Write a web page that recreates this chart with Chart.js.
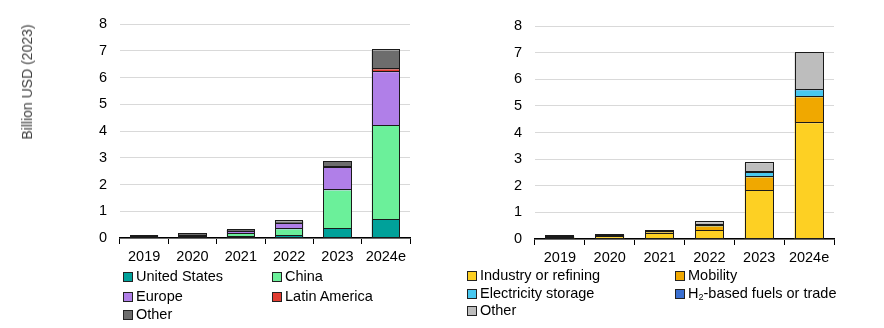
<!DOCTYPE html>
<html>
<head>
<meta charset="utf-8">
<script src="https://cdn.jsdelivr.net/npm/chart.js@4"></script>
<style>
  html, body { margin: 0; padding: 0; background: #fff; }
  body { width: 884px; height: 328px; position: relative; overflow: hidden; font-family: "Liberation Sans", Arial, sans-serif; }
  canvas { position: absolute; top: 0; }
  #c1 { left: 0; }
  #c2 { left: 440px; }
  .ytitle { position: absolute; left: 27px; top: 82px; transform: translate(-50%, -50%) rotate(-90deg); font-size: 14px; color: #404040; white-space: nowrap; }
  .leg { position: absolute; font-size: 14.5px; color: #000; white-space: nowrap; display: flex; align-items: center; line-height: 15px; }
  .leg .sw { display: inline-block; width: 8px; height: 8px; border: 1px solid #222; margin-right: 3px; box-sizing: content-box; }
  sub { font-size: 9px; vertical-align: -2px; line-height: 0; }
</style>
</head>
<body>
<canvas id="c1" width="440" height="328"></canvas>
<canvas id="c2" width="444" height="328"></canvas>
<div class="ytitle">Billion USD (2023)</div>
<div id="legends"></div>
<script>
// ---- Data ----
const categories = ["2019", "2020", "2021", "2022", "2023", "2024e"];

// Left: by region
const regionNames = ["United States", "China", "Europe", "Latin America", "Other"];
const unitedStates = [0.02, 0.03, 0.05, 0.09, 0.34, 0.69];
const china        = [0.01, 0.02, 0.10, 0.23, 1.44, 3.50];
const europe       = [0.03, 0.04, 0.09, 0.21, 0.85, 2.01];
const latinAmerica = [0.00, 0.00, 0.00, 0.00, 0.02, 0.10];
const otherRegion  = [0.03, 0.07, 0.06, 0.09, 0.20, 0.71];

// Right: by end use
const useNames = ["Industry or refining", "Mobility", "Electricity storage", "H2-based fuels or trade", "Other"];
const industry    = [0.02, 0.07, 0.19, 0.31, 1.80, 4.34];
const mobility    = [0.03, 0.04, 0.06, 0.16, 0.51, 0.98];
const electricity = [0.01, 0.01, 0.02, 0.03, 0.17, 0.26];
const h2fuels     = [0.01, 0.01, 0.01, 0.01, 0.02, 0.02];
const otherUse    = [0.03, 0.03, 0.03, 0.12, 0.35, 1.40];

const yTicks = [0, 1, 2, 3, 4, 5, 6, 7, 8];

const regionColors = ["#00a19a", "#6bf09a", "#b07fe8", "#e03c31", "#6d6d6d"];
const useColors = ["#fdd023", "#f0a800", "#48c8f0", "#3a6fd0", "#bdbdbd"];

const FONT = "'Liberation Sans', Arial, sans-serif";

// crisp black outline around every bar segment (shared 1px boundaries)
const outlinePlugin = {
  id: 'outline',
  afterDatasetsDraw(chart) {
    const ctx = chart.ctx;
    ctx.save();
    ctx.strokeStyle = '#1a1a1a';
    ctx.lineWidth = 1;
    chart.data.datasets.forEach((ds, di) => {
      const meta = chart.getDatasetMeta(di);
      meta.data.forEach((el, idx) => {
        if (!ds.data[idx]) return;
        const p = el.getProps(['x', 'y', 'base', 'width'], true);
        const x0 = Math.round(p.x - p.width / 2) + 0.5;
        const x1 = Math.round(p.x + p.width / 2) - 0.5;
        const yt = Math.round(Math.min(p.y, p.base)) - 0.5;
        const yb = Math.round(Math.max(p.y, p.base)) - 0.5;
        ctx.strokeRect(x0, yt, x1 - x0, Math.max(0, yb - yt));
      });
    });
    ctx.restore();
  }
};

function makeChart(id, names, series, colors, yWidth, padding) {
  const ctx = document.getElementById(id).getContext('2d');
  return new Chart(ctx, {
    type: 'bar',
    data: {
      labels: categories,
      datasets: series.map((d, i) => ({
        label: names[i],
        data: d,
        backgroundColor: colors[i],
        borderWidth: 0,
        categoryPercentage: 0.58,
        barPercentage: 1.0
      }))
    },
    plugins: [outlinePlugin],
    options: {
      responsive: false,
      animation: false,
      devicePixelRatio: 1,
      layout: { padding: padding },
      plugins: { legend: { display: false }, tooltip: { enabled: false } },
      scales: {
        x: {
          stacked: true,
          offset: true,
          grid: { display: true, offset: true, drawOnChartArea: false, drawTicks: true, tickLength: 6, color: '#000', lineWidth: 1 },
          border: { display: true, color: '#000', width: 1.5 },
          ticks: { color: '#000', font: { family: FONT, size: 14.5 }, padding: 4, maxRotation: 0 },
          afterFit: (s) => { s.height = 30; }
        },
        y: {
          stacked: true,
          min: 0, max: 8,
          afterBuildTicks: (s) => { s.ticks = yTicks.map(v => ({ value: v })); },
          grid: { color: '#d9d9d9', lineWidth: 1, drawTicks: false },
          border: { display: false },
          ticks: { color: '#000', font: { family: FONT, size: 14.5 }, padding: 13 },
          afterFit: (s) => { s.width = yWidth; }
        }
      }
    }
  });
}

makeChart('c1', regionNames, [unitedStates, china, europe, latinAmerica, otherRegion], regionColors, 120,
  { left: 0, right: 30, top: 24, bottom: 60 });
makeChart('c2', useNames, [industry, mobility, electricity, h2fuels, otherUse], useColors, 95,
  { left: 0, right: 50, top: 26, bottom: 59 });

// ---- HTML legends ----
const legendLayout = [
  { names: regionNames, colors: regionColors, cols: [123, 272], rows: [276, 296, 314] },
  { names: useNames, colors: useColors, cols: [467, 675], rows: [275, 293, 310] }
];
const holder = document.getElementById('legends');
legendLayout.forEach(L => {
  L.names.forEach((n, i) => {
    const el = document.createElement('div');
    el.className = 'leg';
    el.style.left = L.cols[i % 2] + 'px';
    el.style.top = (L.rows[Math.floor(i / 2)] - 7) + 'px';
    const sw = document.createElement('span');
    sw.className = 'sw';
    sw.style.background = L.colors[i];
    el.appendChild(sw);
    const tx = document.createElement('span');
    if (n.startsWith('H2')) {
      tx.innerHTML = 'H<sub>2</sub>' + n.slice(2);
    } else {
      tx.textContent = n;
    }
    el.appendChild(tx);
    holder.appendChild(el);
  });
});
</script>
</body>
</html>
